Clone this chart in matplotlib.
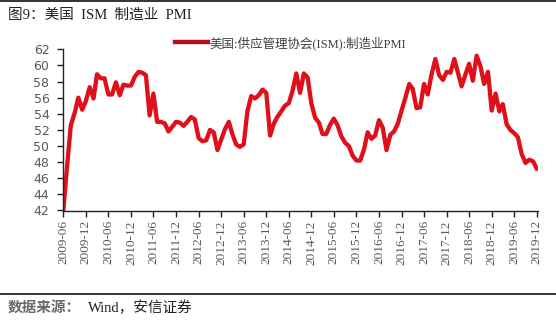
import matplotlib
matplotlib.use("Agg")
import matplotlib.pyplot as plt
import matplotlib.dates as mdates
import pandas as pd

# ---- data ----
start_month = "2009-06"
pmi = [42.0, 47.4, 52.6, 54.1, 56.0, 54.5, 55.6, 57.3, 55.9, 58.9,
       58.4, 58.4, 56.4, 56.4, 57.9, 56.3, 57.6, 57.5, 57.5, 58.6,
       59.2, 59.1, 58.8, 53.8, 56.5, 53.0, 53.0, 52.8, 51.8, 52.4,
       53.0, 52.9, 52.5, 53.0, 53.6, 53.3, 51.0, 50.6, 50.7, 52.0,
       51.7, 49.5, 50.8, 52.1, 53.0, 51.5, 50.2, 49.9, 50.2, 54.3,
       56.2, 55.9, 56.3, 57.0, 56.6, 51.3, 52.8, 53.6, 54.3, 55.0,
       55.3, 56.8, 59.0, 56.6, 59.0, 58.5, 55.3, 53.5, 52.9, 51.5,
       51.5, 52.6, 53.4, 52.6, 51.2, 50.4, 50.0, 48.8, 48.2, 48.2,
       49.6, 51.7, 50.9, 51.3, 53.2, 52.3, 49.5, 51.4, 51.8, 52.8,
       54.4, 56.0, 57.7, 57.1, 54.7, 54.8, 57.7, 56.4, 58.9, 60.8,
       58.8, 58.2, 59.2, 59.1, 60.8, 59.2, 57.4, 58.8, 60.2, 58.1,
       61.2, 59.9, 57.7, 59.2, 54.4, 56.5, 54.3, 55.2, 52.7, 52.0,
       51.6, 51.1, 49.0, 47.9, 48.3, 48.1, 47.2]
series_name = "美国:供应管理协会(ISM):制造业PMI"
y_ticks = [42, 44, 46, 48, 50, 52, 54, 56, 58, 60, 62]
x_tick_start, x_tick_end = "2009-06", "2019-12"
title_text = "图9：美国  ISM  制造业  PMI"
source_label = "数据来源："
source_text = "Wind，安信证券"

dates = pd.date_range(start_month, periods=len(pmi), freq="MS")
tick_dates = pd.date_range(x_tick_start, x_tick_end, freq="6MS")

SERIF_CJK = ["Liberation Serif", "Noto Sans CJK SC"]
GRAY = "#595959"

W, H = 556, 323
fig = plt.figure(figsize=(W / 100, H / 100), dpi=100)
ax = fig.add_axes([63.3 / W, 1 - 210.5 / H, (537.5 - 63.3) / W, (210.5 - 49.3) / H])

ax.plot(dates, pmi, color="#E0101A", lw=3.1, solid_joinstyle="round",
        label=series_name)

ax.set_ylim(42, 62)
ax.set_yticks(y_ticks)
ax.set_xlim(dates[0], dates[-1] + pd.Timedelta(days=6))
ax.set_xticks(tick_dates)
ax.xaxis.set_major_formatter(mdates.DateFormatter("%Y-%m"))

for s in ["top", "right"]:
    ax.spines[s].set_visible(False)
for s in ["left", "bottom"]:
    ax.spines[s].set_color("#222222")
    ax.spines[s].set_linewidth(1.0)

ax.tick_params(axis="y", direction="out", length=4, width=1, color="#222222",
               labelsize=9, labelcolor=GRAY, pad=6)
ax.tick_params(axis="x", direction="out", length=4, width=1, color="#222222",
               labelsize=9.5, labelcolor=GRAY, pad=3, labelrotation=90)
for lab in ax.get_xticklabels():
    lab.set_family("Liberation Serif")

leg = ax.legend(loc="upper left", bbox_to_anchor=(175 / W, 1 - 36 / H),
                bbox_transform=fig.transFigure, frameon=False,
                handlelength=2.6, handletextpad=0.15, borderaxespad=0,
                borderpad=0, prop={"family": SERIF_CJK, "size": 9})
for t in leg.get_texts():
    t.set_color("#404040")
for l in leg.get_lines():
    l.set_color("#B0121C")
    l.set_linewidth(3.2)

# title, rules and source
fig.text(8 / W, 1 - 15 / H, title_text, family=SERIF_CJK, fontsize=10.5,
         color="#222222", va="center", ha="left")
fig.add_artist(plt.Line2D([0, 1], [1 - 0.8 / H, 1 - 0.8 / H],
                          transform=fig.transFigure, color="#111111", lw=1.2))
fig.add_artist(plt.Line2D([0, 1], [1 - 293.5 / H, 1 - 293.5 / H],
                          transform=fig.transFigure, color="#111111", lw=1.2))
fig.text(8 / W, 1 - 308 / H, source_label, family=SERIF_CJK, fontsize=10.5,
         color="#6a6a6a", va="center", ha="left", weight="bold")
fig.text(88 / W, 1 - 308 / H, source_text, family=SERIF_CJK, fontsize=10.5,
         color="#222222", va="center", ha="left")

fig.savefig("out.png", dpi=100)
